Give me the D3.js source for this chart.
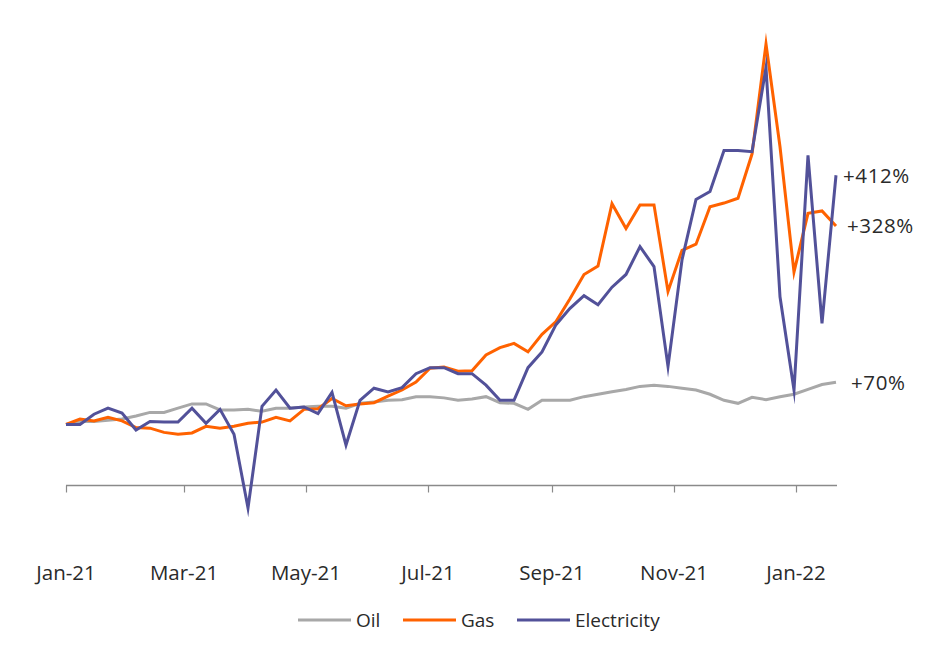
<!DOCTYPE html>
<html>
<head>
<meta charset="utf-8">
<script src="https://cdn.jsdelivr.net/npm/d3@7/dist/d3.min.js"></script>
<style>
  html, body { margin: 0; padding: 0; background: #fff; }
  svg { display: block; }
  text { font-family: "Open Sans", sans-serif; fill: #2a2a2a; }
</style>
</head>
<body>
<svg id="chart" width="952" height="657"></svg>
<script>
// Weekly observations starting 1 Jan 2021, % change since start
const startDate = "2021-01-01";
const weeks = 56;
const oil = [0,5,5,7,9,14,20,20,27,34,34,24,24,25,22,27,27,29,30,30,27,35,37,40,41,46,46,44,40,42,46,36,35,25,40,40,40,46,50,54,58,63,65,63,60,57,50,40,35,45,41,46,50,58,66,70];
const gas = [0,9,6,12,6,-5,-6,-13,-16,-14,-3,-6,-3,2,4,12,6,25,26,43,31,34,36,47,57,70,93,95,88,89,115,127,134,120,149,170,208,248,262,365,324,363,363,220,288,298,360,366,374,447,629,459,252,349,353,328];
const electricity = [0,0,17,27,19,-9,5,4,4,27,2,25,-16,-138,30,57,27,29,18,53,-34,40,60,54,61,84,94,94,84,84,65,40,40,94,120,165,192,213,198,227,248,294,261,96,272,372,385,453,453,451,590,211,57,445,167,412];
const seriesNames = ["Oil", "Gas", "Electricity"];
const seriesColors = ["#a8a8a8", "#ff6200", "#525199"];
const endLabels = ["+70%", "+328%", "+412%"];
const tickLabels = ["Jan-21","Mar-21","May-21","Jul-21","Sep-21","Nov-21","Jan-22"];
const tickDates = ["2021-01-01","2021-03-01","2021-05-01","2021-07-01","2021-09-01","2021-11-01","2022-01-01"];

const parse = d3.utcParse("%Y-%m-%d");
const t0 = parse(startDate);
const dates = d3.range(weeks).map(i => d3.utcDay.offset(t0, i * 7));
const seriesData = [oil, gas, electricity];

const svg = d3.select("#chart");
const x = d3.scaleUtc().domain([dates[0], dates[dates.length - 1]]).range([66, 836]);
const y = d3.scaleLinear().domain([-100, 700]).range([485, 1]);

// x axis
const axisG = svg.append("g").attr("transform", "translate(0,485.5)");
axisG.append("line").attr("x1", 66).attr("x2", 837).attr("y1", 0).attr("y2", 0)
  .attr("stroke", "#8a8a8a").attr("stroke-width", 1.5);
const tickVals = tickDates.map(parse);
axisG.selectAll("line.tick").data(tickVals).join("line").attr("class", "tick")
  .attr("x1", d => Math.round(x(d)) + 0.5).attr("x2", d => Math.round(x(d)) + 0.5)
  .attr("y1", 0).attr("y2", 7).attr("stroke", "#8a8a8a").attr("stroke-width", 1.2);
svg.selectAll("text.tl").data(tickVals).join("text").attr("class", "tl")
  .attr("x", d => x(d)).attr("y", 580).attr("text-anchor", "middle")
  .attr("font-size", 20.5).text((d, i) => tickLabels[i]);

// lines
const line = d3.line().x((d, i) => x(dates[i])).y(d => y(d));
seriesData.forEach((s, k) => {
  svg.append("path").datum(s).attr("d", line).attr("fill", "none")
    .attr("stroke", seriesColors[k]).attr("stroke-width", 3)
    .attr("stroke-linejoin", "miter").attr("stroke-miterlimit", 10);
});

// end labels
const labelDx = [15, 11, 7];
seriesData.forEach((s, k) => {
  svg.append("text").attr("x", x(dates[dates.length - 1]) + labelDx[k])
    .attr("y", y(s[s.length - 1])).attr("dy", "0.36em")
    .attr("font-size", 20.5).attr("letter-spacing", 0.6).text(endLabels[k]);
});

// legend
const legendX = [298, 403, 517];
seriesNames.forEach((n, k) => {
  const g = svg.append("g").attr("transform", `translate(${legendX[k]},620)`);
  g.append("line").attr("x1", 0).attr("x2", 53).attr("y1", 0).attr("y2", 0)
    .attr("stroke", seriesColors[k]).attr("stroke-width", 3);
  g.append("text").attr("x", 58).attr("y", 0).attr("dy", "0.36em")
    .attr("font-size", 19).text(n);
});
</script>
</body>
</html>
